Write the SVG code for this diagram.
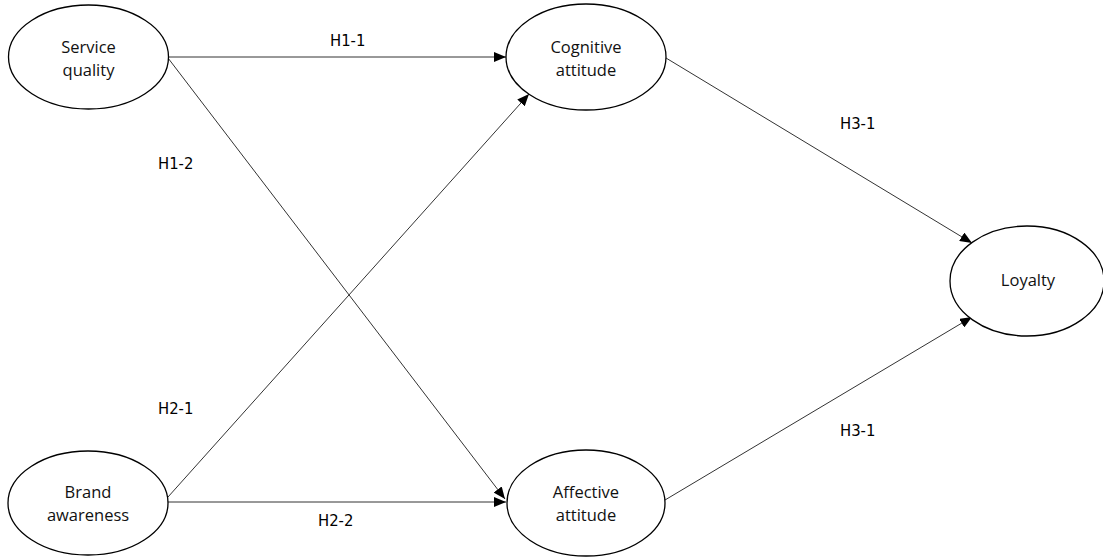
<svg xmlns="http://www.w3.org/2000/svg" width="1103" height="558" viewBox="0 0 1103 558">
<style>
.node ellipse{fill:#fff;stroke:#000;stroke-width:1.3}
.node text{font-family:"Open Sans","Noto Sans",sans-serif;font-size:16.5px;fill:#111;text-anchor:middle}
.edges line{stroke:#333;stroke-width:1}
.lbl{font-family:"DejaVu Sans Condensed","DejaVu Sans",sans-serif;font-size:16.5px;fill:#000}
</style>
<defs>
<marker id="ah" viewBox="0 0 12 10" refX="12" refY="5" markerWidth="12" markerHeight="10" markerUnits="userSpaceOnUse" orient="auto">
<path d="M0,0 L12,5 L0,10 Z" fill="#000"/>
</marker>
</defs>
<rect width="1103" height="558" fill="#fff"/>
<g class="edges">
<line x1="168" y1="57" x2="506" y2="57" marker-end="url(#ah)"/>
<line x1="168" y1="58" x2="505" y2="499" marker-end="url(#ah)"/>
<line x1="168" y1="497" x2="529" y2="94" marker-end="url(#ah)"/>
<line x1="168" y1="502" x2="506" y2="502" marker-end="url(#ah)"/>
<line x1="666" y1="58" x2="972" y2="243" marker-end="url(#ah)"/>
<line x1="665" y1="500" x2="972" y2="317" marker-end="url(#ah)"/>
<text class="lbl" x="330" y="46">H1-1</text>
<text class="lbl" x="158" y="169">H1-2</text>
<text class="lbl" x="158" y="414">H2-1</text>
<text class="lbl" x="318" y="526">H2-2</text>
<text class="lbl" x="840" y="129">H3-1</text>
<text class="lbl" x="840" y="436">H3-1</text>
</g>
<g id="service-quality" class="node"><ellipse cx="88.5" cy="57" rx="80" ry="52"/><text x="88.5" y="53">Service</text><text x="88.5" y="76">quality</text></g>
<g id="cognitive-attitude" class="node"><ellipse cx="586" cy="57" rx="80" ry="53"/><text x="586" y="53">Cognitive</text><text x="586" y="76">attitude</text></g>
<g id="loyalty" class="node"><ellipse cx="1027" cy="281" rx="77" ry="55"/><text x="1028" y="286">Loyalty</text></g>
<g id="brand-awareness" class="node"><ellipse cx="88" cy="503" rx="80" ry="52"/><text x="88" y="498">Brand</text><text x="88" y="521">awareness</text></g>
<g id="affective-attitude" class="node"><ellipse cx="586" cy="503" rx="79" ry="53"/><text x="586" y="498">Affective</text><text x="586" y="521">attitude</text></g>
</svg>
